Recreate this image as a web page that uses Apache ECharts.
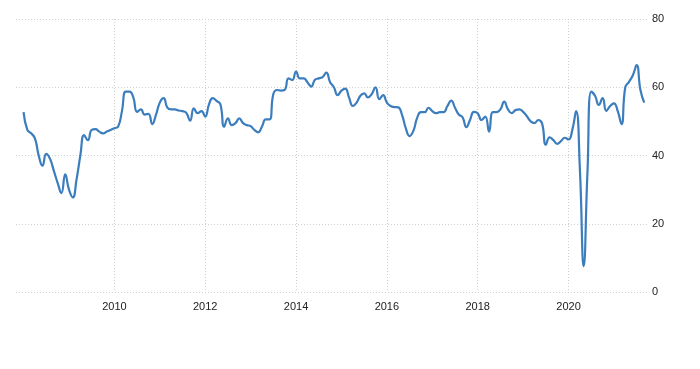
<!DOCTYPE html>
<html>
<head>
<meta charset="utf-8">
<script src="https://cdn.jsdelivr.net/npm/echarts@6/dist/echarts.min.js"></script>
<style>
html,body{margin:0;padding:0;background:#fff;}
#chart{width:700px;height:369px;}
</style>
</head>
<body>
<div id="chart"></div>
<script>
// Monthly values, Jan 2008 .. Sep 2021
const v2008 = [52.7, 47.5, 46.5, 45, 40, 37, 40.5, 39, 35.5, 32, 29, 34.5];
const v2009 = [30, 27.7, 33, 40, 46, 44.5, 47.5, 47.7, 47, 46.5, 47, 47.5];
const v2010 = [48, 48.5, 53, 58.7, 58.7, 57, 52.8, 53.5, 52, 52.2, 49.2, 52];
const v2011 = [55.5, 56.8, 54, 53.5, 53.5, 53.2, 53, 52.5, 50.2, 53.8, 52.4, 53];
const v2012 = [51.4, 55, 56.8, 56, 55, 48.4, 50.9, 48.9, 49.5, 50.9, 49.5, 48.9];
const v2013 = [48.6, 47.5, 46.8, 48.5, 50.6, 50.6, 58, 59.2, 59, 59.2, 62.6, 62.1];
const v2014 = [64.6, 62.6, 62.6, 61.5, 60.2, 62.2, 62.6, 63, 64.3, 61.5, 60, 57.7];
const v2015 = [59, 59.6, 57, 54.5, 55.5, 57.5, 58.2, 57, 58, 60, 56.5, 57.7];
const v2016 = [55.5, 54.5, 54.2, 54.1, 51.9, 48, 45.7, 47.2, 51, 52.7, 52.7, 54];
const v2017 = [53, 52.4, 52.7, 52.7, 54.5, 56.1, 54, 52, 51.2, 48.3, 50.5, 52.8];
const v2018 = [52.4, 50.4, 51.4, 47, 52.7, 52.7, 53.5, 55.8, 53.5, 52.4, 53.3, 53.5];
const v2019 = [52.8, 51.5, 50, 49.5, 50.4, 49.4, 43.1, 45.3, 44.5, 43.4, 44.2, 45.2];
const v2020 = [44.7, 47.5, 53, 36, 7.6, 35, 58.7, 57.5, 54.8, 56.8, 53.1, 54.5];
const v2021 = [55.3, 53, 49.2, 60, 61.6, 63.5, 66.5, 59.2, 55.5];

const xTickYears = [2010, 2012, 2014, 2016, 2018, 2020];
const yTicks = [0, 20, 40, 60, 80];

const values = [].concat(v2008, v2009, v2010, v2011, v2012, v2013, v2014,
  v2015, v2016, v2017, v2018, v2019, v2020, v2021);

// month categories, with padding months on both sides (Nov 2007 .. Oct 2021)
const categories = [];
{
  let y = 2007, m = 11;
  while (y < 2021 || (y === 2021 && m <= 10)) {
    categories.push(y + '-' + (m < 10 ? '0' + m : m));
    m++; if (m > 12) { m = 1; y++; }
  }
}
const seriesData = ['-', '-'].concat(values, ['-']);

function isTick(idx, val) {
  const parts = String(val).split('-');
  return parts[1] === '01' && xTickYears.indexOf(+parts[0]) >= 0;
}

const chart = echarts.init(document.getElementById('chart'), null, {renderer: 'canvas'});
chart.setOption({
  animation: false,
  backgroundColor: '#ffffff',
  grid: {left: 16, right: 52, top: 19, bottom: 77, containLabel: false},
  xAxis: {
    type: 'category',
    data: categories,
    boundaryGap: false,
    axisLine: {show: false},
    axisTick: {show: false},
    axisLabel: {
      interval: isTick,
      formatter: v => v.split('-')[0],
      color: '#222',
      fontSize: 11,
      fontFamily: 'Liberation Sans, Arial, sans-serif',
      margin: 9
    },
    splitLine: {
      show: true,
      interval: isTick,
      lineStyle: {color: '#d0d0d0', type: [1, 2], width: 1}
    }
  },
  yAxis: {
    type: 'value',
    position: 'right',
    min: 0, max: 80, interval: 20,
    axisLine: {show: false},
    axisTick: {show: false},
    axisLabel: {
      color: '#222',
      fontSize: 11,
      fontFamily: 'Liberation Sans, Arial, sans-serif',
      margin: 4,
      formatter: v => yTicks.indexOf(v) >= 0 ? String(v) : ''
    },
    splitLine: {lineStyle: {color: '#d0d0d0', type: [1, 2], width: 1}}
  },
  series: [{
    type: 'line',
    data: seriesData,
    smooth: 0.5,
    showSymbol: false,
    lineStyle: {color: '#3b7dbd', width: 2.2},
    itemStyle: {color: '#3b7dbd'}
  }]
});
</script>
</body>
</html>
